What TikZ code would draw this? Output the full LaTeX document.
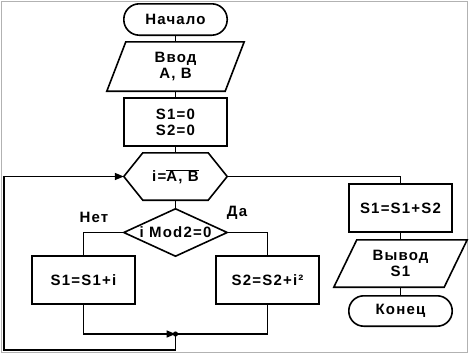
\documentclass[tikz,border=0pt]{standalone}
\usepackage{fontspec}
\setmainfont{Liberation Sans}[LetterSpace=8]
\usetikzlibrary{arrows.meta,calc}
\begin{document}
\begin{tikzpicture}[x=1pt,y=-1pt,
  every node/.style={font=\fontsize{15}{16}\selectfont\bfseries},
  ln/.style={line width=1.6pt,line join=miter},
  box/.style={draw=none,minimum width=103pt,minimum height=48pt,inner sep=0pt,align=center},
  arr/.style={-{Triangle[length=9pt,width=7pt]}},
  lbl/.style={inner sep=0pt}]
\useasboundingbox (0,0) rectangle (469,359);
\draw[black!30,line width=1pt] (1,1) rectangle (467.5,352.5);
% nodes
\node[box,minimum height=31pt] (start) at (175.5,19.5) {Начало};
\node[box,minimum width=137pt,minimum height=49pt] (in) at (175.5,66.5) {Ввод\\A, B};
\node[box] (init) at (175.5,122) {S1=0\\S2=0};
\node[box,minimum height=47pt] (loop) at (175.5,176.5) {i=$\overline{\mbox{A, B}}$};
\node[box,minimum height=47pt] (cond) at (175.5,232.5) {i Mod2=0};
\node[box] (s1) at (83.5,280) {S1=S1+i};
\node[box] (s2) at (267.5,280) {S2=S2+i²};
\node[box] (sum) at (400.5,208) {S1=S1+S2};
\node[box,minimum width=133pt,minimum height=47pt] (out) at (400.5,263.5) {Вывод\\S1};
\node[box,minimum height=30pt] (end) at (400.5,311) {Конец};
\node[lbl] (no) at (94,217) {Нет};
\node[lbl] (yes) at (237,213) {Да};
\coordinate (m) at (175.5,334);
\coordinate (c1) at (175.5,350);
\coordinate (c2) at (4,350);
% outlines
\draw[ln,rounded corners=15.5pt] (start.north west) rectangle (start.south east);
\draw[ln] ([xshift=19pt]in.north west) -- (in.north east) -- ([xshift=-19pt]in.south east) -- (in.south west) -- cycle;
\draw[ln] (init.north west) rectangle (init.south east);
\draw[ln] (loop.west) -- ([xshift=19pt]loop.north west) -- ([xshift=-19pt]loop.north east) -- (loop.east) -- ([xshift=-19pt]loop.south east) -- ([xshift=19pt]loop.south west) -- cycle;
\draw[ln] (cond.west) -- (cond.north) -- (cond.east) -- (cond.south) -- cycle;
\draw[ln] (s1.north west) rectangle (s1.south east);
\draw[ln] (s2.north west) rectangle (s2.south east);
\draw[ln] (sum.north west) rectangle (sum.south east);
\draw[ln] ([xshift=23pt]out.north west) -- (out.north east) -- ([xshift=-23pt]out.south east) -- (out.south west) -- cycle;
\draw[ln,rounded corners=15pt] (end.north west) rectangle (end.south east);
% connectors
\draw[ln] (start) -- (in);
\draw[ln] (in) -- (init);
\draw[ln] (init) -- (loop);
\draw[ln] (loop) -- (cond);
\draw[ln] (cond.west) -| (s1.north);
\draw[ln] (cond.east) -| (s2.north);
\draw[ln,arr] (s1.south) |- (m);
\draw[ln] (s2.south) |- (m);
\fill (m) circle (2.6pt);
\draw[ln,arr] (m) -- (c1) -- (c2) |- (loop.west);
\draw[ln] (loop.east) -| (sum.north);
\draw[ln] (sum) -- (out);
\draw[ln] (out) -- (end);
\end{tikzpicture}
\end{document}
